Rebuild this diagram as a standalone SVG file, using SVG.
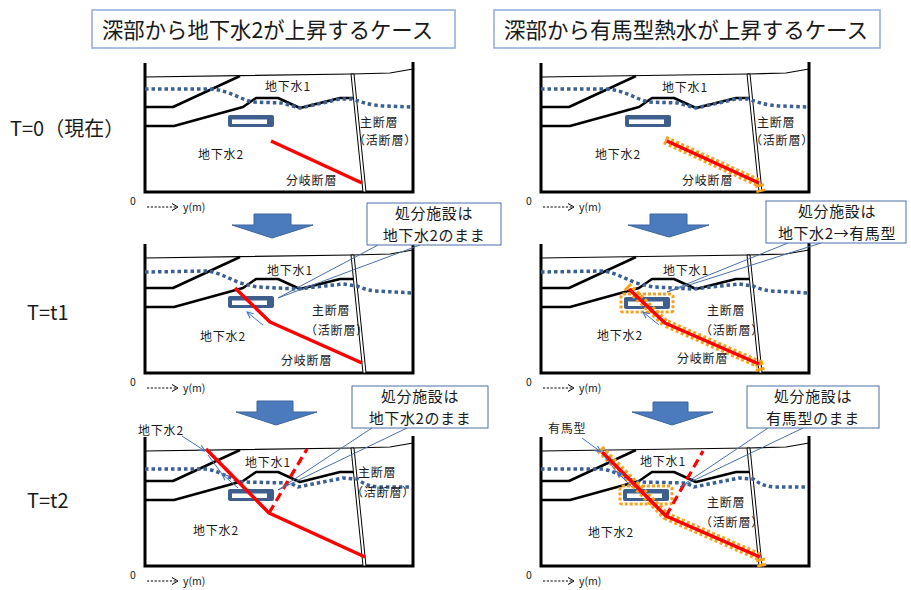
<svg xmlns="http://www.w3.org/2000/svg" width="911" height="590" viewBox="0 0 911 590">
<style>
text{font-family:"Noto Sans CJK JP","Noto Sans",sans-serif;fill:#1a1a1a}
.lbl{font-size:12px;letter-spacing:0.8px}
.title{font-size:22px}
.time{font-size:20px}
.call{font-size:15px;text-anchor:middle;letter-spacing:0.6px}
.ax{font-size:10.5px}
.frame{fill:none;stroke:#000;stroke-width:3}
.surf{fill:none;stroke:#000;stroke-width:1.1}
.layer{fill:none;stroke:#000;stroke-width:2.5;stroke-linejoin:round}
.fault{fill:#fff;stroke:#000;stroke-width:1}
.wt{fill:none;stroke:#3A5F93;stroke-width:3.5;stroke-dasharray:3.5 3}
.red{fill:none;stroke:#FF0000;stroke-width:3.5;stroke-linejoin:round}
.dash{fill:none;stroke:#FF0000;stroke-width:3.2;stroke-dasharray:9 5}
.hot{fill:none;stroke:#F5A21E;stroke-width:9;stroke-dasharray:3 2.5}
.hotbox{fill:none;stroke:#F5A21E;stroke-width:3;stroke-dasharray:3 2}
.flow{fill:none;stroke:#4472C4;stroke-width:1}
.wedge{fill:none;stroke:#4A6FA5;stroke-width:1}
.cbox{fill:#fff;stroke:#4A6FA5;stroke-width:1}
.tbox{fill:#fff;stroke:#8FAADC;stroke-width:1.5}
.down{fill:#4C7BBD;stroke:#3C659F;stroke-width:1}
</style>
<defs>
  <marker id="ah" viewBox="0 0 10 10" refX="9" refY="5" markerWidth="7" markerHeight="7" orient="auto" markerUnits="userSpaceOnUse">
    <path d="M0,1 L9,5 L0,9" fill="none" stroke="#4472C4" stroke-width="1.5"/>
  </marker>
  <!-- cross-section frame, ground surface, strata, main fault and axis -->
  <g id="base">
    <polyline class="surf" points="145,77 352,74 390,73 413,69"/>
    <path class="frame" d="M145,63 V192 H413 V62"/>
    <polyline class="layer" points="145,107 173,107 240,76"/>
    <polyline class="layer" points="145,126 174,126 243,107 256,98 278,98 300,108 340,98 353,98"/>
    <polygon class="fault" points="351,74 354,74 366,192 363,192"/>
    <text class="ax" x="130" y="205">0</text>
    <line x1="147" y1="207" x2="177" y2="207" stroke="#000" stroke-width="1" stroke-dasharray="2.2 1.6"/>
    <path d="M172,203.5 L178,207 L172,210.5" fill="none" stroke="#000" stroke-width="1"/>
    <text class="ax" x="183" y="211">y(m)</text>
  </g>
  <!-- groundwater table per time step -->
  <path id="wt1" class="wt" d="M145,89 L210,89 C228,90 238,98 252,102 L282,103 L300,108 L340,99 L352,99 C362,102 368,105 385,106 L413,107"/>
  <path id="wt2" class="wt" d="M145,272 L207,271 C220,273 228,278 240,283 L257,287 L297,289 L343,284 L357,286 C362,288 366,290 375,291 L413,293"/>
  <path id="wt3" class="wt" d="M145,469 L207,469 C222,472 230,479 242,482 L290,483 L298,487 L343,478 L357,479 C363,483 367,486 378,487 L410,487"/>
  <!-- disposal facility -->
  <g id="repo">
    <rect x="228" y="115" width="46" height="12" rx="2" fill="#3E5F8E"/>
    <rect x="232" y="119.5" width="35" height="4.5" fill="#fff"/>
  </g>
</defs>

<!-- column headings -->
<g id="title-left">
  <rect class="tbox" x="92" y="10" width="363" height="38"/>
  <text class="title" x="102" y="38" textLength="331" lengthAdjust="spacingAndGlyphs">深部から地下水2が上昇するケース</text>
</g>
<g id="title-right">
  <rect class="tbox" x="494" y="10" width="386" height="38"/>
  <text class="title" x="504" y="38" textLength="364" lengthAdjust="spacingAndGlyphs">深部から有馬型熱水が上昇するケース</text>
</g>

<!-- time step labels -->
<g id="time-labels">
  <text class="time" x="10" y="136">T=0（現在）</text>
  <text class="time" x="27" y="320">T=t1</text>
  <text class="time" x="27" y="508">T=t2</text>
</g>

<!-- T=0, groundwater 2 case -->
<g id="panel-a1">
  <use href="#base"/>
  <use href="#wt1"/>
  <use href="#repo"/>
  <polyline class="red" points="271,141 362,183"/>
  <text class="lbl" x="265" y="91">地下水1</text>
  <text class="lbl" x="360" y="127">主断層</text>
  <text class="lbl" x="353" y="145">（活断層）</text>
  <text class="lbl" x="198" y="159">地下水2</text>
  <text class="lbl" x="286" y="185">分岐断層</text>
</g>

<!-- T=t1, groundwater 2 case -->
<g id="panel-a2">
  <use href="#base" transform="translate(0,181)"/>
  <use href="#wt2"/>
  <use href="#repo" transform="translate(0,181)"/>
  <polyline class="red" points="235,288 270,322 362,363"/>
  <line class="flow" x1="263" y1="325" x2="247" y2="312" marker-end="url(#ah)"/>
  <text class="lbl" x="267" y="275">地下水1</text>
  <text class="lbl" x="312" y="315">主断層</text>
  <text class="lbl" x="305" y="335">（活断層）</text>
  <text class="lbl" x="200" y="341">地下水2</text>
  <text class="lbl" x="281" y="365">分岐断層</text>
</g>

<!-- T=t2, groundwater 2 case -->
<g id="panel-a3">
  <use href="#base" transform="translate(0,374)"/>
  <use href="#wt3"/>
  <use href="#repo" transform="translate(0,374)"/>
  <polyline class="red" points="206,449 269,513 365,557"/>
  <line class="dash" x1="269" y1="513" x2="307" y2="449"/>
  <text class="lbl" x="138" y="435">地下水2</text>
  <line class="flow" x1="182" y1="436" x2="205" y2="451" marker-end="url(#ah)"/>
  <line class="flow" x1="238" y1="488" x2="222" y2="474" marker-end="url(#ah)"/>
  <line class="flow" x1="222" y1="474" x2="208" y2="455"/>
  <text class="lbl" x="245" y="467">地下水1</text>
  <text class="lbl" x="358" y="477">主断層</text>
  <text class="lbl" x="351" y="497">（活断層）</text>
  <text class="lbl" x="193" y="535">地下水2</text>
</g>

<!-- T=0, Arima-type case -->
<g id="panel-b1">
  <use href="#base" transform="translate(396,0)"/>
  <use href="#wt1" transform="translate(396,0)"/>
  <use href="#repo" transform="translate(397,0)"/>
  <polyline class="hot" points="665,140 759,183 761,192"/>
  <polyline class="red" points="667,141 759,183"/>
  <text class="lbl" x="662" y="92">地下水1</text>
  <text class="lbl" x="757" y="127">主断層</text>
  <text class="lbl" x="750" y="145">（活断層）</text>
  <text class="lbl" x="595" y="159">地下水2</text>
  <text class="lbl" x="682" y="185">分岐断層</text>
</g>

<!-- T=t1, Arima-type case -->
<g id="panel-b2">
  <use href="#base" transform="translate(396,181)"/>
  <use href="#wt2" transform="translate(396,0)"/>
  <use href="#repo" transform="translate(396,182)"/>
  <rect class="hotbox" x="621" y="294" width="52" height="18" rx="2"/>
  <polyline class="hot" points="627,286 665,323 759,364 761,373"/>
  <polyline class="red" points="629,289 665,323 759,364"/>
  <line class="flow" x1="659" y1="325" x2="643" y2="312" marker-end="url(#ah)"/>
  <text class="lbl" x="663" y="275">地下水1</text>
  <text class="lbl" x="707" y="315">主断層</text>
  <text class="lbl" x="700" y="335">（活断層）</text>
  <text class="lbl" x="597" y="340">地下水2</text>
  <text class="lbl" x="677" y="363">分岐断層</text>
</g>

<!-- T=t2, Arima-type case -->
<g id="panel-b3">
  <use href="#base" transform="translate(396,374)"/>
  <use href="#wt3" transform="translate(396,0)"/>
  <use href="#repo" transform="translate(395,374)"/>
  <rect class="hotbox" x="620" y="486" width="52" height="18" rx="2"/>
  <polyline class="hot" points="600,449 666,516 760,557 762,567"/>
  <polyline class="red" points="602,452 666,516 760,557"/>
  <line class="dash" x1="666" y1="516" x2="703" y2="451"/>
  <text class="lbl" x="548" y="433">有馬型</text>
  <line class="flow" x1="582" y1="438" x2="601" y2="452" marker-end="url(#ah)"/>
  <line class="flow" x1="632" y1="487" x2="617" y2="472" marker-end="url(#ah)"/>
  <line class="flow" x1="617" y1="472" x2="604" y2="456"/>
  <text class="lbl" x="640" y="466">地下水1</text>
  <text class="lbl" x="707" y="507">主断層</text>
  <text class="lbl" x="700" y="527">（活断層）</text>
  <text class="lbl" x="588" y="537">地下水2</text>
</g>

<!-- callouts on the disposal facility -->
<g id="callout-a2">
  <polyline class="wedge" points="378,245 278,298 420,245"/>
  <rect class="cbox" x="367" y="203" width="134" height="42"/>
  <text class="call" x="434" y="219">処分施設は</text>
  <text class="call" x="434" y="241">地下水2のまま</text>
</g>
<g id="callout-b2">
  <polyline class="wedge" points="788,243 667,292 821,243"/>
  <rect class="cbox" x="766" y="201" width="140" height="42"/>
  <text class="call" x="837" y="217">処分施設は</text>
  <text class="call" x="837" y="239">地下水2→有馬型</text>
</g>
<g id="callout-a3">
  <polyline class="wedge" points="372,428 278,490 407,428"/>
  <rect class="cbox" x="352" y="386" width="136" height="42"/>
  <text class="call" x="420" y="402">処分施設は</text>
  <text class="call" x="420" y="424">地下水2のまま</text>
</g>
<g id="callout-b3">
  <polyline class="wedge" points="768,428 680,487 803,428"/>
  <rect class="cbox" x="747" y="386" width="132" height="42"/>
  <text class="call" x="813" y="402">処分施設は</text>
  <text class="call" x="813" y="424">有馬型のまま</text>
</g>

<!-- time progression arrows -->
<g id="connectors">
  <polygon class="down" points="254,214 291,214 291,225 313,225 272,238 232,225 254,225"/>
  <polygon class="down" points="650,214 687,214 687,225 709,225 669,237 628,225 650,225"/>
  <polygon class="down" points="257,401 293,401 293,412 317,412 276,425 236,412 257,412"/>
  <polygon class="down" points="653,402 688,402 688,412 713,412 672,425 632,412 653,412"/>
</g>
</svg>
